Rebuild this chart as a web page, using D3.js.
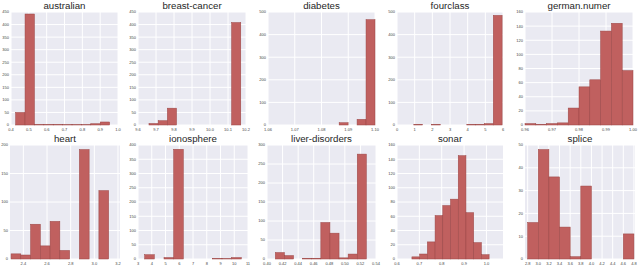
<!DOCTYPE html>
<html><head><meta charset="utf-8">
<script src="https://cdn.jsdelivr.net/npm/d3@7"></script>
<style>html,body{margin:0;padding:0;background:#fff;}svg{display:block;}</style>
</head><body>
<svg id="chart" width="640" height="267"></svg>
<script>
// ---- data ----
const titles = ["australian","breast-cancer","diabetes","fourclass","german.numer",
                "heart","ionosphere","liver-disorders","sonar","splice"];
const xDomains = [[0.4,1.0],[9.6,10.2],[1.06,1.10],[0,6],[0.96,1.00],
                  [2.287,3.217],[3,11],[0.40,0.54],[0.6,1.074],[2.75,4.82]];
const binRanges = [[0.426,0.953],[9.661,10.171],[1.0665,1.10],[0.95,5.95],[0.96,1.00],
                   [2.296,3.121],[3.485,10.515],[0.4107,0.5276],[0.6667,1.0119],[2.8,4.8]];
const counts = [
  [50,442,2,2,2,1,1,1,5,12],
  [6,17,67,0,0,0,0,0,0,408],
  [0,0,0,0,0,0,10,0,25,466],
  [3,0,3,0,0,0,3,3,6,485],
  [2,1,2,3,24,54,64,133,144,77],
  [9,7,61,23,66,15,0,192,0,120],
  [15,0,5,385,0,0,0,2,1,5],
  [17,9,0,2,2,96,68,3,13,276],
  [3,7,24,61,75,84,145,65,23,6],
  [16,48,36,14,1,32,0,0,0,11]
];
const yMaxes = [450,450,500,500,160,200,400,300,160,50];
const ySteps = [50,50,100,100,20,50,50,50,20,10];
const xTickLabels = [
  ["0.4","0.5","0.6","0.7","0.8","0.9","1.0"],
  ["9.6","9.7","9.8","9.9","10.0","10.1","10.2"],
  ["1.06","1.07","1.08","1.09","1.10"],
  ["0","1","2","3","4","5","6"],
  ["0.96","0.97","0.98","0.99","1.00"],
  ["2.4","2.6","2.8","3.0","3.2"],
  ["3","4","5","6","7","8","9","10","11"],
  ["0.40","0.42","0.44","0.46","0.48","0.50","0.52","0.54"],
  ["0.6","0.7","0.8","0.9","1.0"],
  ["2.8","3.0","3.2","3.4","3.6","3.8","4.0","4.2","4.4","4.6","4.8"]
];

// ---- layout ----
const rowsY = [[12,125],[145,259]];
const colsX = [
  [[11,118],[138,246],[268,375],[397,503],[525,633]],
  [[10,120],[138,248],[267,376],[397,503],[525,635]]
];
const svg = d3.select("#chart");

titles.forEach((title, i) => {
  const r = Math.floor(i/5), c = i%5;
  const [x0,x1] = colsX[r][c], [y0,y1] = rowsY[r];
  const x = d3.scaleLinear().domain(xDomains[i]).range([x0,x1]);
  const y = d3.scaleLinear().domain([0,yMaxes[i]]).range([y1,y0]);
  const g = svg.append("g");
  g.append("rect").attr("x",x0).attr("y",y0).attr("width",x1-x0).attr("height",y1-y0).attr("fill","#eaeaf2");
  const xt = xTickLabels[i].map(Number);
  const yt = d3.range(0, yMaxes[i]+1e-9, ySteps[i]);
  // grid
  g.selectAll(".gx").data(xt).enter().append("line")
    .attr("x1",d=>x(d)).attr("x2",d=>x(d)).attr("y1",y0).attr("y2",y1)
    .attr("stroke","#fff").attr("stroke-width",1);
  g.selectAll(".gy").data(yt).enter().append("line")
    .attr("x1",x0).attr("x2",x1).attr("y1",d=>y(d)).attr("y2",d=>y(d))
    .attr("stroke","#fff").attr("stroke-width",1);
  // bars
  const [lo,hi] = binRanges[i];
  const n = counts[i].length, w = (hi-lo)/n;
  g.selectAll(".bar").data(counts[i]).enter().append("rect")
    .attr("x",(d,k)=>x(lo+k*w)).attr("width",(d,k)=>x(lo+(k+1)*w)-x(lo+k*w))
    .attr("y",d=>y(d)).attr("height",d=>y1-y(d))
    .attr("fill","#c0605f").attr("stroke","#9a4544").attr("stroke-width",0.5);
  // y tick labels
  g.selectAll(".yl").data(yt).enter().append("text")
    .attr("x",x0-2).attr("y",d=>y(d)+1.4).attr("text-anchor","end")
    .attr("font-family","Liberation Sans, Arial, sans-serif").attr("font-size",4)
    .attr("fill","#444").text(d=>d);
  // x tick labels
  g.selectAll(".xl").data(xTickLabels[i]).enter().append("text")
    .attr("x",d=>x(+d)).attr("y",y1+5.5).attr("text-anchor","middle")
    .attr("font-family","Liberation Sans, Arial, sans-serif").attr("font-size",4)
    .attr("fill","#444").text(d=>d);
  // title
  g.append("text").attr("x",(x0+x1)/2).attr("y",y0-3).attr("text-anchor","middle")
    .attr("font-family","Liberation Sans, Arial, sans-serif").attr("font-size",9.7)
    .attr("fill","#262626").text(title);
});
</script>
</body></html>
